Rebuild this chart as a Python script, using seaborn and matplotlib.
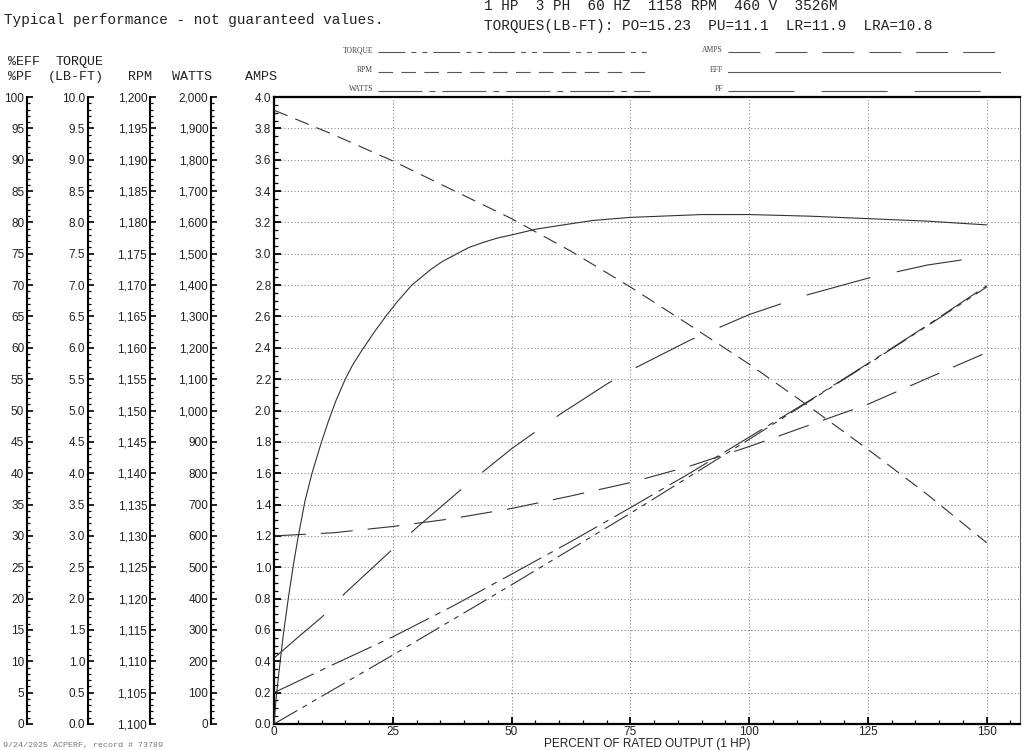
import seaborn as sns
import matplotlib.pyplot as plt
from matplotlib.lines import Line2D
from matplotlib.ticker import MultipleLocator, FuncFormatter

plt.rcParams['font.family'] = ['Liberation Sans', 'DejaVu Sans']
plt.rcParams['lines.scale_dashes'] = False

# percent of rated output
load = [0, 12.5, 25, 37.5, 50, 62.5, 75, 87.5, 100, 112.5, 125, 137.5, 150]
amps = [1.20, 1.22, 1.26, 1.31, 1.375, 1.455, 1.54, 1.645, 1.77, 1.905, 2.04, 2.205, 2.37]
rpm = [1197.9, 1194.0, 1189.8, 1185.2, 1180.6, 1175.4, 1169.7, 1163.6, 1157.4, 1150.7, 1143.8, 1136.6, 1128.9]
torque = [0.0, 0.55, 1.10, 1.66, 2.22, 2.79, 3.36, 3.95, 4.54, 5.14, 5.74, 6.35, 6.97]
watts = [100, 190, 278, 375, 478, 582, 690, 800, 915, 1030, 1150, 1272, 1398]

eff_load = [0, 0.5, 1, 2, 3, 4, 5, 6.5, 8, 10, 11.5, 13, 15, 16.5, 18.5, 21, 23.5, 26, 29,
            33, 35.5, 38.5, 41, 44, 47, 50, 55, 60, 67, 75, 90, 100, 112.5, 125, 137.5, 150]
eff = [0, 4.5, 8, 14.5, 20, 25, 29.5, 35.5, 40, 45, 48.4, 51.5, 55, 57.2, 59.6, 62.4, 65,
       67.4, 70, 72.5, 73.8, 75, 76.0, 76.8, 77.5, 78, 78.9, 79.5, 80.3, 80.8, 81.25, 81.25,
       81.0, 80.6, 80.2, 79.6]

pf_load = [0, 5, 10, 15, 20, 25, 30, 40, 50, 60, 70, 75, 87.5, 100, 112.5, 125, 137.5, 150]
pf = [10.5, 13.8, 17.0, 20.9, 24.4, 27.9, 31.3, 37.8, 43.9, 49.3, 54.2, 56.4, 61.2, 65.3,
      68.5, 71.1, 73.2, 74.6]

# line styles (dash lengths in points)
styles = {
    'TORQUE': (0, (19.4, 4.3, 3.6, 4.3, 3.6, 4.3)),
    'RPM': (0, (10.5, 6.0)),
    'WATTS': (0, (31.7, 5, 4.3, 5)),
    'AMPS': (0, (23, 10.8)),
    'EFF': '-',
    'PF': (0, (47.5, 19.5)),
}
line_col = '#333333'
lw = 0.8

W, H = 1025, 750
fig = plt.figure(figsize=(10.25, 7.5), dpi=100)
ax = fig.add_axes([274 / W, 1 - 724 / H, 746 / W, 627 / H])


def extra_axis(spine_px, lims, major, minor, fmt):
    tw = ax.twinx()
    tw.set_ylim(*lims)
    tw.spines['left'].set_visible(True)
    tw.spines['left'].set_position(('axes', (spine_px - 274) / 746))
    tw.spines['left'].set_linewidth(1.5)
    for s in ['right', 'top', 'bottom']:
        tw.spines[s].set_visible(False)
    tw.yaxis.set_ticks_position('left')
    tw.yaxis.set_major_locator(MultipleLocator(major))
    tw.yaxis.set_minor_locator(MultipleLocator(minor))
    tw.yaxis.set_major_formatter(FuncFormatter(lambda v, p: fmt.format(v)))
    tw.tick_params(axis='y', which='major', direction='in', length=4.5, width=1.2,
                   pad=2, labelsize=8.5, labelcolor='#222222')
    tw.tick_params(axis='y', which='minor', direction='in', length=2.3, width=0.9)
    return tw


ax_eff = extra_axis(27, (0, 100), 5, 1, '{:.0f}')
ax_tq = extra_axis(88, (0, 10), 0.5, 0.1, '{:.1f}')
ax_rpm = extra_axis(150, (1100, 1200), 5, 1, '{:,.0f}')
ax_w = extra_axis(211, (0, 2000), 100, 20, '{:,.0f}')

# curves, each on its own scale
sns.lineplot(x=eff_load, y=eff, ax=ax_eff, color=line_col, linewidth=lw, linestyle=styles['EFF'])
sns.lineplot(x=pf_load, y=pf, ax=ax_eff, color=line_col, linewidth=lw, linestyle=styles['PF'])
sns.lineplot(x=load, y=torque, ax=ax_tq, color=line_col, linewidth=lw, linestyle=styles['TORQUE'])
sns.lineplot(x=load, y=rpm, ax=ax_rpm, color=line_col, linewidth=lw, linestyle=styles['RPM'])
sns.lineplot(x=load, y=watts, ax=ax_w, color=line_col, linewidth=lw, linestyle=styles['WATTS'])
sns.lineplot(x=load, y=amps, ax=ax, color=line_col, linewidth=lw, linestyle=styles['AMPS'])

for a in [ax_eff, ax_tq, ax_rpm, ax_w]:
    a.set_ylabel('')
ax.set_ylim(0, 4)
ax_eff.set_ylim(0, 100)
ax_tq.set_ylim(0, 10)
ax_rpm.set_ylim(1100, 1200)
ax_w.set_ylim(0, 2000)
ax.set_xlim(0, 157)

# main axis (amps) and x axis
ax.xaxis.set_major_locator(MultipleLocator(25))
ax.xaxis.set_minor_locator(MultipleLocator(5))
ax.yaxis.set_major_locator(MultipleLocator(0.2))
ax.yaxis.set_minor_locator(MultipleLocator(0.05))
ax.yaxis.set_major_formatter(FuncFormatter(lambda v, p: '{:.1f}'.format(v)))
ax.tick_params(which='major', direction='in', length=5, width=1.3, pad=2,
               labelsize=8.5, labelcolor='#222222')
ax.tick_params(which='minor', direction='in', length=2.6, width=0.9)
ax.tick_params(axis='x', which='major', pad=1.5)
ax.grid(True, which='major', color='#8a8a8a', linewidth=0.8, linestyle=(0, (0.8, 1.6)))
ax.set_axisbelow(True)
for s in ['left', 'top', 'bottom']:
    ax.spines[s].set_linewidth(1.6)
ax.spines['right'].set_linewidth(0.8)
ax.spines['right'].set_color('#555555')
ax.set_xlabel('PERCENT OF RATED OUTPUT (1 HP)', fontsize=8.5, labelpad=0, color='#222222')
ax.set_ylabel('')

# header texts
mono = ['Liberation Mono', 'DejaVu Sans Mono']
fig.text(4 / W, 1 - 20 / H, 'Typical performance - not guaranteed values.', family=mono,
         fontsize=10.4, va='center', color='#222222')
fig.text(484 / W, 1 - 6 / H, '1 HP  3 PH  60 HZ  1158 RPM  460 V  3526M', family=mono,
         fontsize=10.4, va='center', color='#222222')
fig.text(484 / W, 1 - 26 / H, 'TORQUES(LB-FT): PO=15.23  PU=11.1  LR=11.9  LRA=10.8',
         family=mono, fontsize=10.4, va='center', color='#222222')

col_heads = [('%EFF', 8, 62), ('TORQUE', 56, 62), ('%PF', 8, 77), ('(LB-FT)', 48, 77),
             ('RPM', 128, 77), ('WATTS', 172, 77), ('AMPS', 245, 77)]
for txt, xp, yp in col_heads:
    fig.text(xp / W, 1 - yp / H, txt, family=mono, fontsize=9.6, va='center', color='#222222')

fig.text(3 / W, 1 - 745 / H, '9/24/2025 ACPERF, record # 73789', family=mono,
         fontsize=6, va='center', color='#777777')

# legend block
legend_rows = [('TORQUE', 373, 378, 650, 52), ('RPM', 373, 378, 650, 72),
               ('WATTS', 373, 378, 650, 91), ('AMPS', 723, 728, 1000, 52),
               ('EFF', 723, 728, 1000, 72), ('PF', 723, 728, 1000, 91)]
for name, tx, x0, x1, yp in legend_rows:
    fig.text(tx / W, 1 - yp / H, name, family=['Liberation Serif', 'DejaVu Serif'],
             fontsize=5.5, ha='right', va='baseline', color='#444444')
    fig.add_artist(Line2D([x0 / W, x1 / W], [1 - yp / H, 1 - yp / H],
                          transform=fig.transFigure, color='#555555', linewidth=0.8,
                          linestyle=styles[name]))

fig.savefig('out.png', dpi=100)
